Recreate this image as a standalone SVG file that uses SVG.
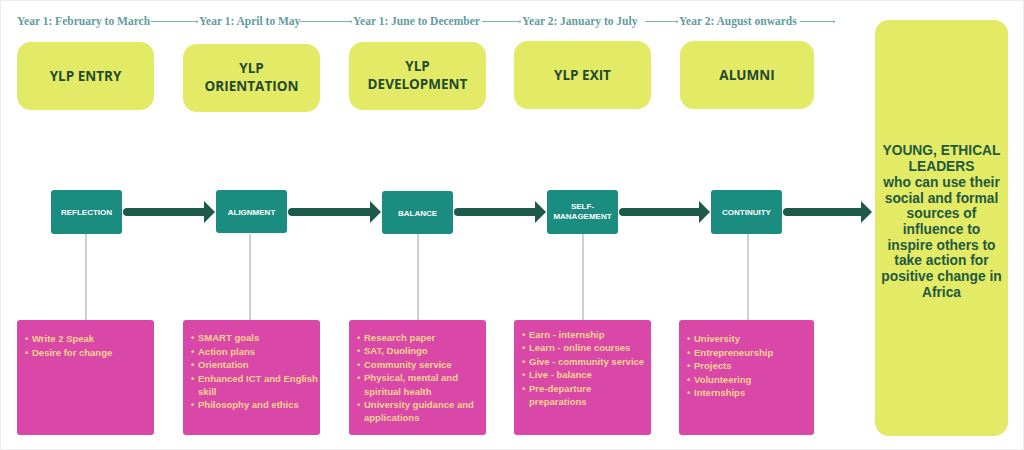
<svg xmlns="http://www.w3.org/2000/svg" width="1024" height="450" viewBox="0 0 1024 450">
<defs>
<style>
.tl{font-family:"Liberation Serif",serif;font-size:11.5px;font-weight:bold;fill:#5f9ca0}
.tline{stroke:#7fb0b3;stroke-width:1;fill:none}
.yb{fill:#e3ea66}
.yt{font-family:"Open Sans","Liberation Sans",sans-serif;font-weight:bold;font-size:13.5px;fill:#1f4a2e;text-anchor:middle}
.tb{fill:#1a8c80}
.tt{font-family:"Liberation Sans",sans-serif;font-weight:bold;font-size:8px;fill:#ffffff;text-anchor:middle}
.pb{fill:#d947a8}
.pt{font-family:"Liberation Sans",sans-serif;font-weight:bold;font-size:9.5px;fill:#f6d58c}
.vl{stroke:#888;stroke-width:0.8}
.arr{stroke:#1d5a4b;stroke-width:8;stroke-linecap:round;fill:none}
.ah{fill:#1d5a4b}
.big{font-family:"Liberation Sans",sans-serif;font-weight:bold;font-size:13.8px;fill:#1f5a40;text-anchor:middle}
</style>
<marker id="dot" viewBox="0 0 4 4" refX="2" refY="2" markerWidth="3" markerHeight="3"><circle cx="2" cy="2" r="1.5" fill="#7fb0b3"/></marker>
</defs>
<rect width="1024" height="450" fill="#ffffff"/>
<rect x="0.5" y="0.5" width="1023" height="449" fill="none" stroke="#ececec"/>

<g id="timeline">
<text class="tl" x="17" y="25">Year 1: February to March</text>
<text class="tl" x="199" y="25">Year 1: April to May</text>
<text class="tl" x="353" y="25">Year 1: June to December</text>
<text class="tl" x="522" y="25">Year 2: January to July</text>
<text class="tl" x="679" y="25">Year 2: August onwards</text>
</g>

<g id="connectors">
<line class="tline" x1="151" y1="21.5" x2="197" y2="21.5" marker-end="url(#dot)"/>
<line class="tline" x1="300" y1="21.5" x2="351" y2="21.5" marker-end="url(#dot)"/>
<line class="tline" x1="482" y1="21.5" x2="520" y2="21.5" marker-end="url(#dot)"/>
<line class="tline" x1="645" y1="21.5" x2="677" y2="21.5" marker-end="url(#dot)"/>
<line class="tline" x1="800" y1="21.5" x2="834" y2="21.5" marker-end="url(#dot)"/>

<line class="arr" x1="127" y1="212" x2="205" y2="212"/><polygon class="ah" points="204,201 215,212 204,223"/>
<line class="arr" x1="292" y1="212" x2="371" y2="212"/><polygon class="ah" points="370,201 381,212 370,223"/>
<line class="arr" x1="458" y1="212" x2="536" y2="212"/><polygon class="ah" points="535,201 546,212 535,223"/>
<line class="arr" x1="623" y1="212" x2="700" y2="212"/><polygon class="ah" points="699,201 710,212 699,223"/>
<line class="arr" x1="787" y1="212" x2="862" y2="212"/><polygon class="ah" points="861,201 872,212 861,223"/>

<line class="vl" x1="86" y1="234" x2="86" y2="320"/>
<line class="vl" x1="250" y1="234" x2="250" y2="320"/>
<line class="vl" x1="418" y1="234" x2="418" y2="320"/>
<line class="vl" x1="583" y1="234" x2="583" y2="320"/>
<line class="vl" x1="748" y1="234" x2="748" y2="320"/>
</g>

<g id="ylp-entry"><rect class="yb" x="17" y="42" width="137" height="68" rx="14"/><text class="yt" x="85.5" y="81">YLP ENTRY</text></g>
<g id="ylp-orientation"><rect class="yb" x="183" y="44" width="137" height="68" rx="14"/><text class="yt" x="251.5" y="73">YLP</text><text class="yt" x="251.5" y="91">ORIENTATION</text></g>
<g id="ylp-development"><rect class="yb" x="349" y="42" width="137" height="68" rx="14"/><text class="yt" x="417.5" y="71">YLP</text><text class="yt" x="417.5" y="89">DEVELOPMENT</text></g>
<g id="ylp-exit"><rect class="yb" x="514" y="41" width="137" height="68" rx="14"/><text class="yt" x="582.5" y="80">YLP EXIT</text></g>
<g id="alumni"><rect class="yb" x="680" y="41" width="134" height="68" rx="14"/><text class="yt" x="747" y="80">ALUMNI</text></g>

<g id="outcome"><rect class="yb" x="875" y="20" width="133" height="416" rx="14"/>
<text class="big" x="941.5" y="155">YOUNG, ETHICAL</text>
<text class="big" x="941.5" y="171">LEADERS</text>
<text class="big" x="941.5" y="187">who can use their</text>
<text class="big" x="941.5" y="202.5">social and formal</text>
<text class="big" x="941.5" y="218">sources of</text>
<text class="big" x="941.5" y="234">influence to</text>
<text class="big" x="941.5" y="249.5">inspire others to</text>
<text class="big" x="941.5" y="265">take action for</text>
<text class="big" x="941.5" y="281">positive change in</text>
<text class="big" x="941.5" y="296.5">Africa</text>
</g>

<g id="reflection"><rect class="tb" x="51" y="190" width="71" height="44" rx="3"/><text class="tt" x="86.5" y="215">REFLECTION</text></g>
<g id="alignment"><rect class="tb" x="216" y="190" width="71" height="43" rx="3"/><text class="tt" x="251.5" y="215">ALIGNMENT</text></g>
<g id="balance"><rect class="tb" x="382" y="191" width="71" height="43" rx="3"/><text class="tt" x="417.5" y="216">BALANCE</text></g>
<g id="self-management"><rect class="tb" x="547" y="190" width="71" height="44" rx="3"/><text class="tt" x="582.5" y="209">SELF-</text><text class="tt" x="582.5" y="219">MANAGEMENT</text></g>
<g id="continuity"><rect class="tb" x="711" y="190" width="71" height="44" rx="3"/><text class="tt" x="746.5" y="215">CONTINUITY</text></g>

<g id="entry-list"><rect class="pb" x="17" y="320" width="137" height="115" rx="3"/>
<text class="pt" x="25" y="342">•</text><text class="pt" x="32" y="342">Write 2 Speak</text>
<text class="pt" x="25" y="356">•</text><text class="pt" x="32" y="356">Desire for change</text>
</g>
<g id="orientation-list"><rect class="pb" x="183" y="320" width="137" height="115" rx="3"/>
<text class="pt" x="191" y="341">•</text><text class="pt" x="198" y="341">SMART goals</text>
<text class="pt" x="191" y="355">•</text><text class="pt" x="198" y="355">Action plans</text>
<text class="pt" x="191" y="368">•</text><text class="pt" x="198" y="368">Orientation</text>
<text class="pt" x="191" y="382">•</text><text class="pt" x="198" y="382">Enhanced ICT and English</text>
<text class="pt" x="198" y="395">skill</text>
<text class="pt" x="191" y="408">•</text><text class="pt" x="198" y="408">Philosophy and ethics</text>
</g>
<g id="development-list"><rect class="pb" x="349" y="320" width="137" height="115" rx="3"/>
<text class="pt" x="357" y="341">•</text><text class="pt" x="364" y="341">Research paper</text>
<text class="pt" x="357" y="354">•</text><text class="pt" x="364" y="354">SAT, Duolingo</text>
<text class="pt" x="357" y="368">•</text><text class="pt" x="364" y="368">Community service</text>
<text class="pt" x="357" y="381">•</text><text class="pt" x="364" y="381">Physical, mental and</text>
<text class="pt" x="364" y="395">spiritual health</text>
<text class="pt" x="357" y="408">•</text><text class="pt" x="364" y="408">University guidance and</text>
<text class="pt" x="364" y="421">applications</text>
</g>
<g id="exit-list"><rect class="pb" x="514" y="320" width="137" height="115" rx="3"/>
<text class="pt" x="522" y="338">•</text><text class="pt" x="529" y="338">Earn - internship</text>
<text class="pt" x="522" y="351">•</text><text class="pt" x="529" y="351">Learn - online courses</text>
<text class="pt" x="522" y="365">•</text><text class="pt" x="529" y="365">Give - community service</text>
<text class="pt" x="522" y="378">•</text><text class="pt" x="529" y="378">Live - balance</text>
<text class="pt" x="522" y="392">•</text><text class="pt" x="529" y="392">Pre-departure</text>
<text class="pt" x="529" y="405">preparations</text>
</g>
<g id="alumni-list"><rect class="pb" x="679" y="320" width="135" height="115" rx="3"/>
<text class="pt" x="687" y="342">•</text><text class="pt" x="694" y="342">University</text>
<text class="pt" x="687" y="356">•</text><text class="pt" x="694" y="356">Entrepreneurship</text>
<text class="pt" x="687" y="369">•</text><text class="pt" x="694" y="369">Projects</text>
<text class="pt" x="687" y="383">•</text><text class="pt" x="694" y="383">Volunteering</text>
<text class="pt" x="687" y="396">•</text><text class="pt" x="694" y="396">Internships</text>
</g>
</svg>
